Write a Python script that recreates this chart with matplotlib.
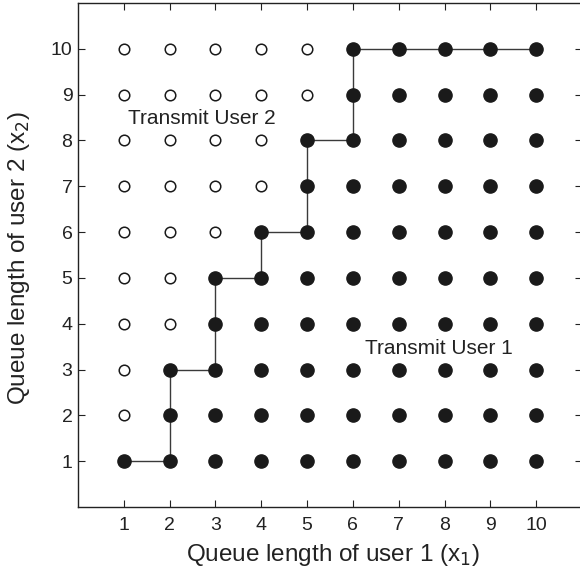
import matplotlib
matplotlib.use("Agg")
import matplotlib.pyplot as plt
import numpy as np

plt.rcParams['font.family'] = ['Liberation Sans', 'DejaVu Sans']

# queue lengths on each axis
x1_vals = list(range(1, 11))
x2_vals = list(range(1, 11))
# highest x2 for which user 1 is served, per x1 column
threshold = [1, 3, 5, 6, 8, 10, 10, 10, 10, 10]

# switching curve (staircase)
curve_x = [1, 2, 2, 3, 3, 4, 4, 5, 5, 6, 6, 10]
curve_y = [1, 1, 3, 3, 5, 5, 6, 6, 8, 8, 10, 10]

fig = plt.figure(figsize=(5.8, 5.71), dpi=100)
ax = fig.add_axes([78 / 580, 64 / 571, 504 / 580, 504 / 571])

ax.plot(curve_x, curve_y, color='#3a3a3a', lw=1.0, zorder=1)

fx, fy, ox, oy = [], [], [], []
for i, x in enumerate(x1_vals):
    for y in x2_vals:
        if y <= threshold[i]:
            fx.append(x); fy.append(y)
        else:
            ox.append(x); oy.append(y)

ax.plot(fx, fy, 'o', ms=9.5, color='#1a1a1a', mec='#1a1a1a', mew=1.0, zorder=2)
ax.plot(ox, oy, 'o', ms=7.6, mfc='white', mec='#1a1a1a', mew=1.1, zorder=2)

ax.text(2.70, 8.47, 'Transmit User 2', fontsize=15, ha='center', va='center', color='#222222')
ax.text(7.88, 3.46, 'Transmit User 1', fontsize=15, ha='center', va='center', color='#222222')

ax.set_xlim(0, 11)
ax.set_ylim(0, 11)
ax.set_xticks(x1_vals)
ax.set_yticks(x2_vals)
ax.tick_params(direction='in', top=True, right=True, length=5, width=0.8,
               labelsize=14, colors='#222222')
ax.tick_params(axis='x', pad=7)
ax.tick_params(axis='y', pad=4)
for s in ax.spines.values():
    s.set_color('#222222')
    s.set_linewidth(1.0)

ax.set_xlabel('Queue length of user 1 (x$_1$)', fontsize=17.5, color='#222222')
ax.set_ylabel('Queue length of user 2 (x$_2$)', fontsize=17.5, color='#222222')
ax.xaxis.set_label_coords(0.5055, -0.069)
ax.yaxis.set_label_coords(-0.092, 0.494)

fig.savefig('out.png', dpi=100)
